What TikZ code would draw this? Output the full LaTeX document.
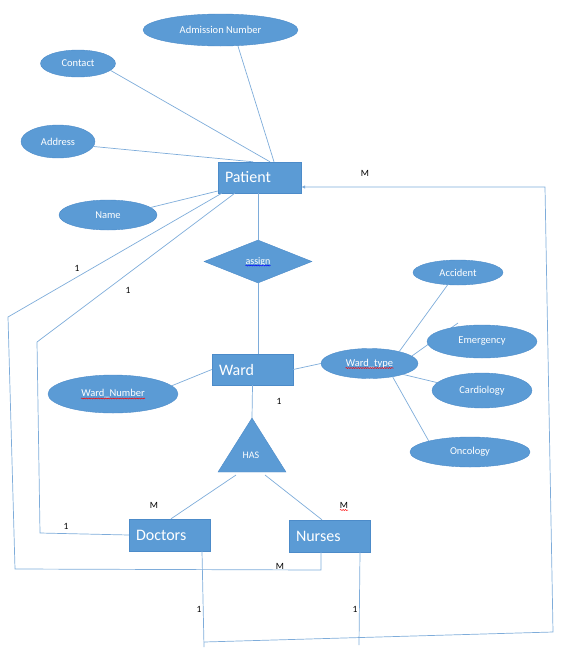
\documentclass[tikz,border=0pt]{standalone}
\usepackage{fontspec}
\setmainfont{Carlito}
\usetikzlibrary{shapes.geometric, arrows.meta, decorations.pathmorphing}
\definecolor{erfill}{HTML}{5B9BD5}
\definecolor{eredge}{HTML}{4C8BC9}
\definecolor{erline}{HTML}{7EACDA}
\pgfdeclarelayer{behind}
\pgfsetlayers{behind,main}

\begin{document}
\begin{tikzpicture}[x=1pt,y=-1pt,
  entity/.style={rectangle,draw=eredge,fill=erfill,text=white,minimum width=81pt,minimum height=31pt,inner xsep=7pt,text width=67pt,align=left,font=\fontsize{16}{18}\selectfont},
  attrib/.style={ellipse,draw=eredge,fill=erfill,text=white,inner sep=0pt,font=\fontsize{10.5}{12}\selectfont},
  rel/.style={draw=eredge,fill=erfill,text=white,inner sep=0pt,font=\fontsize{10}{12}\selectfont},
  card/.style={inner sep=0pt,font=\fontsize{9.5}{11}\selectfont},
  link/.style={erline,line width=0.7pt},
  wave/.style={decorate,decoration={snake,amplitude=0.5pt,segment length=2.4pt},line width=0.5pt}]
  \useasboundingbox (0,0) rectangle (560,667);

  \node[entity,minimum width=83pt,text width=69pt] (patient) at (259.5,177.5) {Patient};
  \node[entity] (ward) at (252.5,369.5) {Ward};
  \node[entity,minimum height=32pt] (doctors) at (169.5,535) {Doctors};
  \node[entity,minimum height=32pt] (nurses) at (329.5,536) {Nurses};

  \node[attrib,minimum width=155pt,minimum height=32pt] (admno) at (220.5,30) {Admission Number};
  \node[attrib,minimum width=75pt,minimum height=27pt] (contact) at (78,63.5) {Contact};
  \node[attrib,minimum width=74pt,minimum height=33pt] (address) at (58,141.5) {Address};
  \node[attrib,minimum width=98pt,minimum height=30pt] (name) at (108,215) {Name};
  \node[attrib,minimum width=130pt,minimum height=38pt] (wardnum) at (113,394) {Ward\_Number};
  \node[attrib,minimum width=97pt,minimum height=30pt] (wardtype) at (369.5,363.5) {Ward\_type};
  \node[attrib,minimum width=90pt,minimum height=25pt] (accident) at (458,272.5) {Accident};
  \node[attrib,minimum width=110pt,minimum height=33pt] (emergency) at (482,341.5) {Emergency};
  \node[attrib,minimum width=100pt,minimum height=35pt] (cardio) at (482,390.5) {Cardiology};
  \node[attrib,minimum width=120pt,minimum height=30pt] (onco) at (470,452) {Oncology};

  \node[rel,diamond,minimum width=108pt,minimum height=43pt] (assign) at (258,261.5) {assign};
  \coordinate (hasTop) at (252,418);
  \coordinate (hasLeft) at (218,472);
  \coordinate (hasRight) at (286,472);
  \filldraw[draw=eredge,fill=erfill] (hasTop) -- (hasRight) -- (hasLeft) -- cycle;
  \node[rel,draw=none,fill=none] (has) at (251,455) {HAS};
  \coordinate (hasD) at (236,475);
  \coordinate (hasN) at (265,475);

  \draw[wave,red] ([shift={(-32,4.5)}]wardnum.center) -- ([shift={(32,4.5)}]wardnum.center);
  \draw[wave,red] ([shift={(-24,4.5)}]wardtype.center) -- ([shift={(24,4.5)}]wardtype.center);
  \draw[wave,blue] ([shift={(-12.5,4)}]assign.center) -- ([shift={(12.5,4)}]assign.center);

  \coordinate (la1) at (8,317);
  \coordinate (la2) at (15,569);
  \coordinate (la3) at (321,570);
  \coordinate (lb1) at (37,342);
  \coordinate (lb2) at (40,533);
  \coordinate (rb1) at (204,642);
  \coordinate (rb2) at (553,632);
  \coordinate (rt) at (545,187);
  \coordinate (dd) at (204,647);
  \coordinate (nd) at (359,645);
  \coordinate (emgtip) at (458,323);

  \draw[link] ([xshift=17.5]admno.south) -- ([xshift=14.5]patient.north);
  \draw[link] (contact.-12) -- ([xshift=10.5]patient.north);
  \draw[link] (address.-8) -- ([xshift=-6.5]patient.north);
  \draw[link] (name.10) -- ([yshift=-13.5]patient.west);
  \draw[link] (patient.south -| assign.north) -- (assign.north);
  \draw[link] (assign.south) -- (assign.south |- ward.north);
  \draw[link] (ward.west) -- (wardnum.8);
  \draw[link] (ward.east) -- (wardtype.west);
  \draw[link] (wardtype.22) -- (accident.-130);
  \begin{pgfonlayer}{behind}
    \draw[link] (wardtype.10) -- (emgtip);
  \end{pgfonlayer}
  \draw[link] (wardtype.-18) -- (cardio.170);
  \draw[link] (wardtype.-30) -- (onco.165);
  \draw[link] (ward.south) -- (hasTop);
  \draw[link] (hasD) -- ([xshift=1.5]doctors.north);
  \draw[link] (hasN) -- ([xshift=-7.5]nurses.north);

  \draw[link] ([xshift=4]patient.south west) -- (la1) -- (la2) -- (la3) -- (la3 |- nurses.south);
  \draw[link] ([xshift=17]patient.south west) -- (lb1) -- (lb2) -- (doctors.west);
  \draw[link] ([xshift=32.5]doctors.south) -- (dd);
  \draw[link] ([xshift=30.5]nurses.south) -- (nd);
  \draw[link,-{Latex[length=4pt,width=3.5pt]}] (rb1) -- (rb2) -- (rt) -- (rt -| patient.east);

  \node[card] (c1) at (77,268) {1};
  \node[card] (c2) at (128,290) {1};
  \node[card] (c3) at (365,173) {M};
  \node[card] (c4) at (279,401) {1};
  \node[card] (c5) at (154,505) {M};
  \node[card] (c6) at (344,505) {M};
  \draw[wave,red] ([shift={(-4,5)}]c6.center) -- ([shift={(4,5)}]c6.center);
  \node[card] (c7) at (66,526) {1};
  \node[card] (c8) at (280,566) {M};
  \node[card] (c9) at (199,609) {1};
  \node[card] (c10) at (355,609) {1};
\end{tikzpicture}
\end{document}
